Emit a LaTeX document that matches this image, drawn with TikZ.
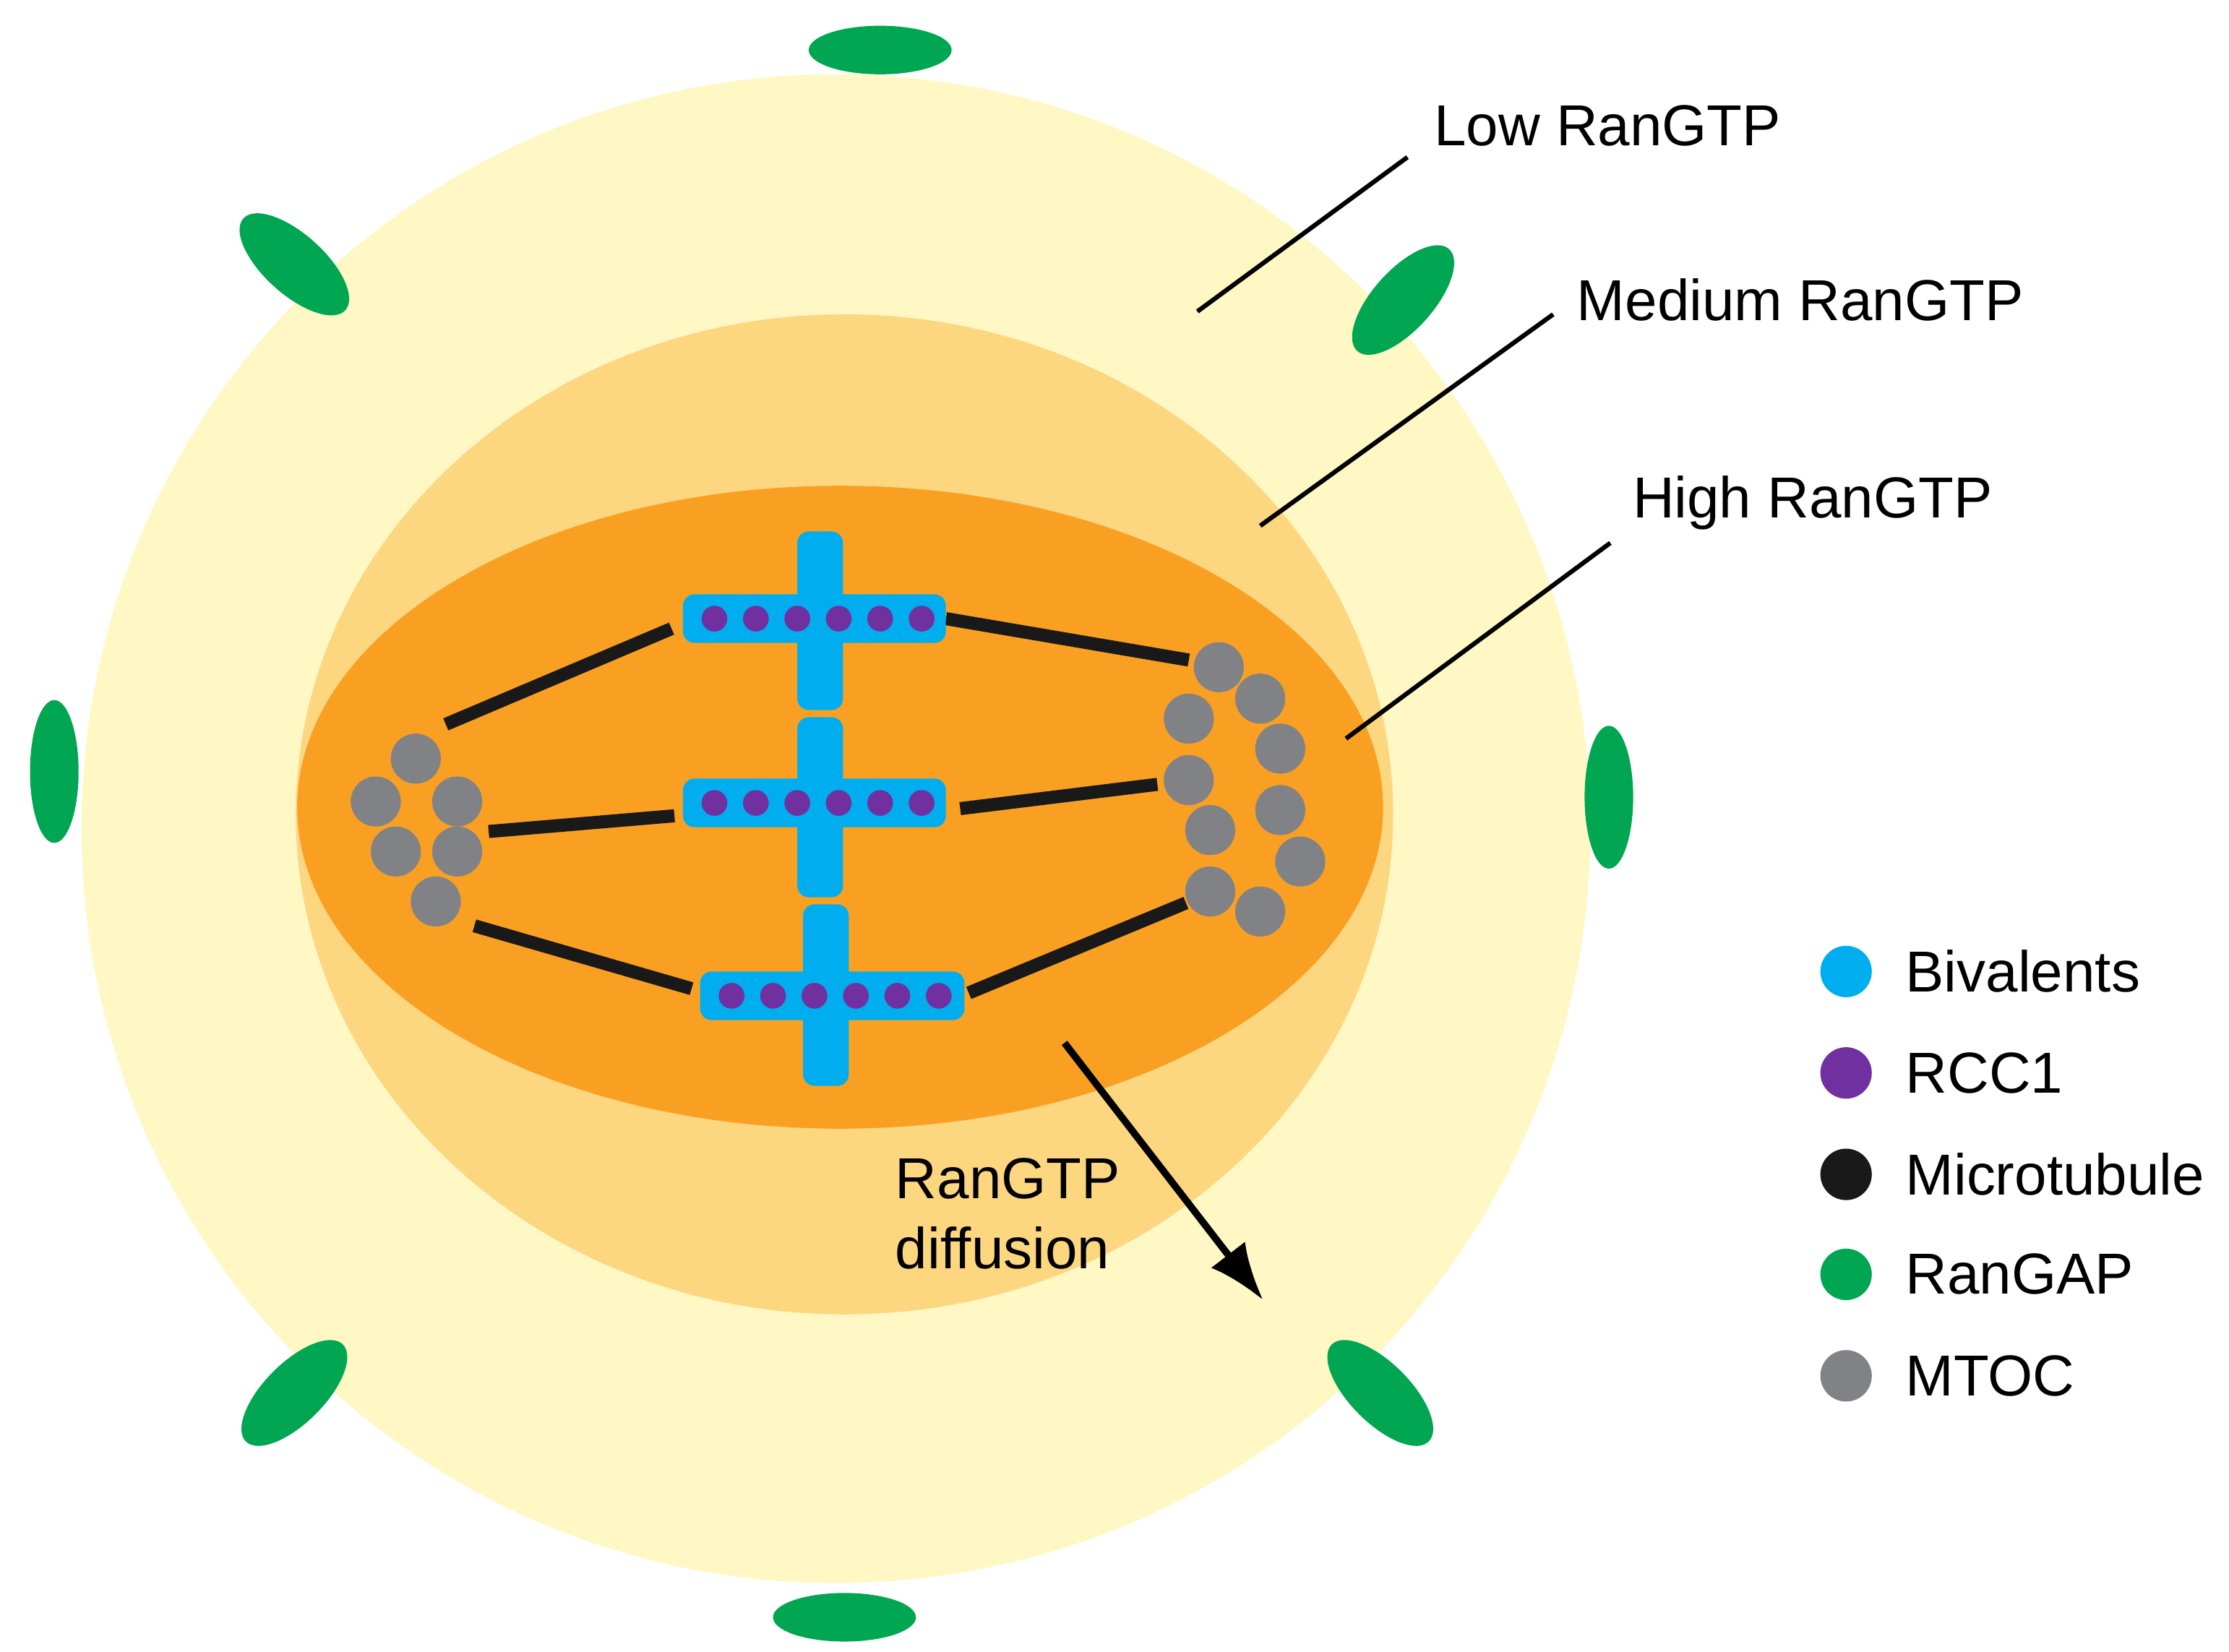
\documentclass[tikz,border=0pt]{standalone}
\usepackage{fontspec}
\setmainfont{Liberation Sans}
\usetikzlibrary{arrows.meta}
\begin{document}
\begin{tikzpicture}[x=0.01cm,y=-0.01cm,
  gap/.style={fill=gapc},
  mtoc/.style={circle,fill=mtocc,minimum size=0.35cm,inner sep=0},
  rcc/.style={circle,fill=rccc,minimum size=0.18cm,inner sep=0},
  mt/.style={line width=2.6pt,draw=black!90},
  lead/.style={line width=0.9pt},
  lab/.style={font=\fontsize{11.5pt}{14pt}\selectfont,anchor=west,inner sep=0},
  bar/.style={fill=bivc,rounded corners=0.08cm}]
\definecolor{lowc}{HTML}{FFF8C4}
\definecolor{medc}{HTML}{FDD680}
\definecolor{highc}{HTML}{F9A023}
\definecolor{bivc}{HTML}{00AEEF}
\definecolor{rccc}{HTML}{7030A0}
\definecolor{gapc}{HTML}{00A651}
\definecolor{mtocc}{HTML}{808285}
\useasboundingbox (0,0) rectangle (1560,1156);
\fill[lowc] (585,580) circle (528);
\fill[medc] (591,570) ellipse [x radius=384,y radius=350];
\fill[highc] (588,565) ellipse [x radius=380,y radius=225];
% RanGAP
\fill[gap] (616,35) ellipse [x radius=50,y radius=17];
\fill[gap] (591,1132) ellipse [x radius=50,y radius=17];
\fill[gap] (38,540) ellipse [x radius=17,y radius=50];
\fill[gap] (1126,558) ellipse [x radius=17,y radius=50];
\fill[gap,rotate around={-42:(206,185)}] (206,185) ellipse [x radius=48,y radius=21];
\fill[gap,rotate around={48:(982,210)}] (982,210) ellipse [x radius=48,y radius=21];
\fill[gap,rotate around={45:(206,975)}] (206,975) ellipse [x radius=48,y radius=21];
\fill[gap,rotate around={-45:(966,975)}] (966,975) ellipse [x radius=48,y radius=21];
% microtubules
\coordinate (m1a) at (312,507); \coordinate (m1b) at (470,440);
\coordinate (m2a) at (342,582); \coordinate (m2b) at (472,571);
\coordinate (m3a) at (332,648); \coordinate (m3b) at (484,692);
\coordinate (m4a) at (662,433); \coordinate (m4b) at (832,462);
\coordinate (m5a) at (672,566); \coordinate (m5b) at (810,549);
\coordinate (m6a) at (678,695); \coordinate (m6b) at (830,632);
\foreach \i in {1,...,6} \draw[mt] (m\i a) -- (m\i b);
% bivalents
\foreach \cx/\cy/\xl/\xr/\yt/\yb in {574/433/478/662/372/497, 574/562/478/662/502/628, 578/697/490/675/633/760}{
  \fill[bar] (\cx-16,\yt) rectangle (\cx+16,\yb);
  \fill[bar] (\xl,\cy-17) rectangle (\xr,\cy+17);
  \foreach \k in {0,...,5} \node[rcc] at ({\xl+22+\k*29},\cy) {};
}
% MTOC
\foreach \p in {(291,531),(263,561),(320,561),(277,596),(320,596),(305,631),
  (853,467),(882,489),(832,503),(896,524),(832,546),(896,567),(847,581),(910,603),(847,624),(882,638)}
  \node[mtoc] at \p {};
% arrow
\coordinate (d1) at (745,730); \coordinate (d2) at (884,910);
\draw[line width=1.4pt,-{Latex[length=0.4cm,width=0.3cm]}] (d1) -- (d2);
\node[lab,align=left,anchor=north west] (diff) at (626,810) {RanGTP\\diffusion};
% labels
\node[lab] (low) at (1003,88) {Low RanGTP};
\node[lab] (med) at (1103,210) {Medium RanGTP};
\node[lab] (high) at (1142,352) {High RanGTP};
\coordinate (l1) at (838,218); \coordinate (l2) at (882,368); \coordinate (l3) at (942,517);
\draw[lead] (985,110) -- (l1);
\draw[lead] (1087,220) -- (l2);
\draw[lead] (1127,380) -- (l3);
% legend
\foreach \y/\c/\t in {680/bivc/Bivalents,751/rccc/RCC1,822/black!90/Microtubule,892/gapc/RanGAP,963/mtocc/MTOC}{
  \fill[\c] (1292,\y) circle (18);
  \node[lab] at (1333,\y) {\t};
}
\end{tikzpicture}
\end{document}
